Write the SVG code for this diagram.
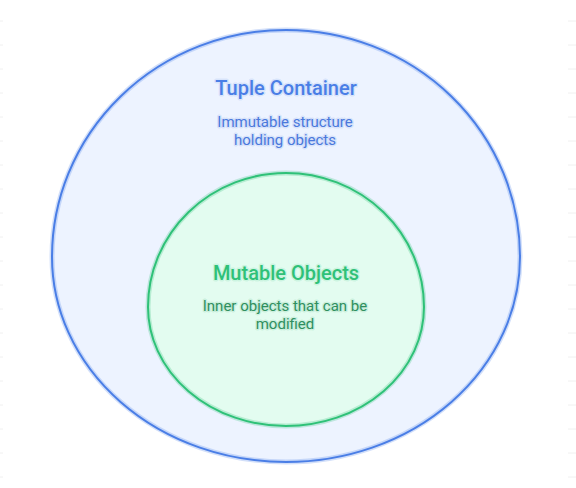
<svg xmlns="http://www.w3.org/2000/svg" width="576" height="488" viewBox="0 0 576 488">
<style>
.tick{stroke:#f0f0f0;stroke-width:1}
.halo{fill:none;stroke-width:5;stroke-opacity:0.25}
.t{font-family:Roboto,"Liberation Sans",sans-serif;text-anchor:middle;paint-order:stroke;stroke-width:3;stroke-linejoin:round}
.title{font-size:20px;font-weight:500}
.sub{font-size:15px}
.blue{fill:#4a7ee6;stroke:#4a7ee6;stroke-opacity:0.15}
.bsub{fill:#4a78dc;stroke:#4a78dc;stroke-opacity:0.15}
.green{fill:#2fc178;stroke:#2fc178;stroke-opacity:0.15}
.gsub{fill:#2f8f5e;stroke:#2f9f64;stroke-opacity:0.15}
</style>
<rect width="576" height="488" fill="#ffffff"/>
<g id="grid">
<path class="tick" d="M0 21h3M0 45h3M0 69h3M0 93h3M0 117h3M0 141h3M0 165h3M0 189h3M0 213h3M0 237h3M0 261h3M0 285h3M0 309h3M0 333h3M0 357h3M0 381h3M0 405h3M0 429h3M0 453h3M0 477h3"/>
<path class="tick" d="M568 21h8M568 45h8M568 69h8M568 93h8M568 117h8M568 141h8M568 165h8M568 189h8M568 213h8M568 237h8M568 261h8M568 285h8M568 309h8M568 333h8M568 357h8M568 381h8M568 405h8M568 429h8M568 453h8M568 477h8"/>
</g>
<g id="tuple-container">
<path d="M52,257 A234,227 0 0 1 520,257 A234,205 0 0 1 52,257 Z" fill="#edf3ff"/>
<path class="halo" stroke="#4a7ee6" d="M52,257 A234,227 0 0 1 520,257 A234,205 0 0 1 52,257 Z"/>
<path d="M52,257 A234,227 0 0 1 520,257 A234,205 0 0 1 52,257 Z" fill="none" stroke="#4a7ee6" stroke-width="2"/>
<text class="t title blue" x="286" y="95">Tuple Container</text>
<text class="t sub bsub" x="285" y="127">Immutable structure</text>
<text class="t sub bsub" x="285" y="145">holding objects</text>
</g>
<g id="mutable-objects">
<path d="M148,307 A138,134 0 0 1 424,307 A138,119 0 0 1 148,307 Z" fill="#e3fcf0"/>
<path class="halo" stroke="#2fc178" d="M148,307 A138,134 0 0 1 424,307 A138,119 0 0 1 148,307 Z"/>
<path d="M148,307 A138,134 0 0 1 424,307 A138,119 0 0 1 148,307 Z" fill="none" stroke="#2fc178" stroke-width="2"/>
<text class="t title green" x="286" y="280">Mutable Objects</text>
<text class="t sub gsub" x="285" y="311">Inner objects that can be</text>
<text class="t sub gsub" x="285" y="329">modified</text>
</g>
<g id="connectors"></g>
</svg>
